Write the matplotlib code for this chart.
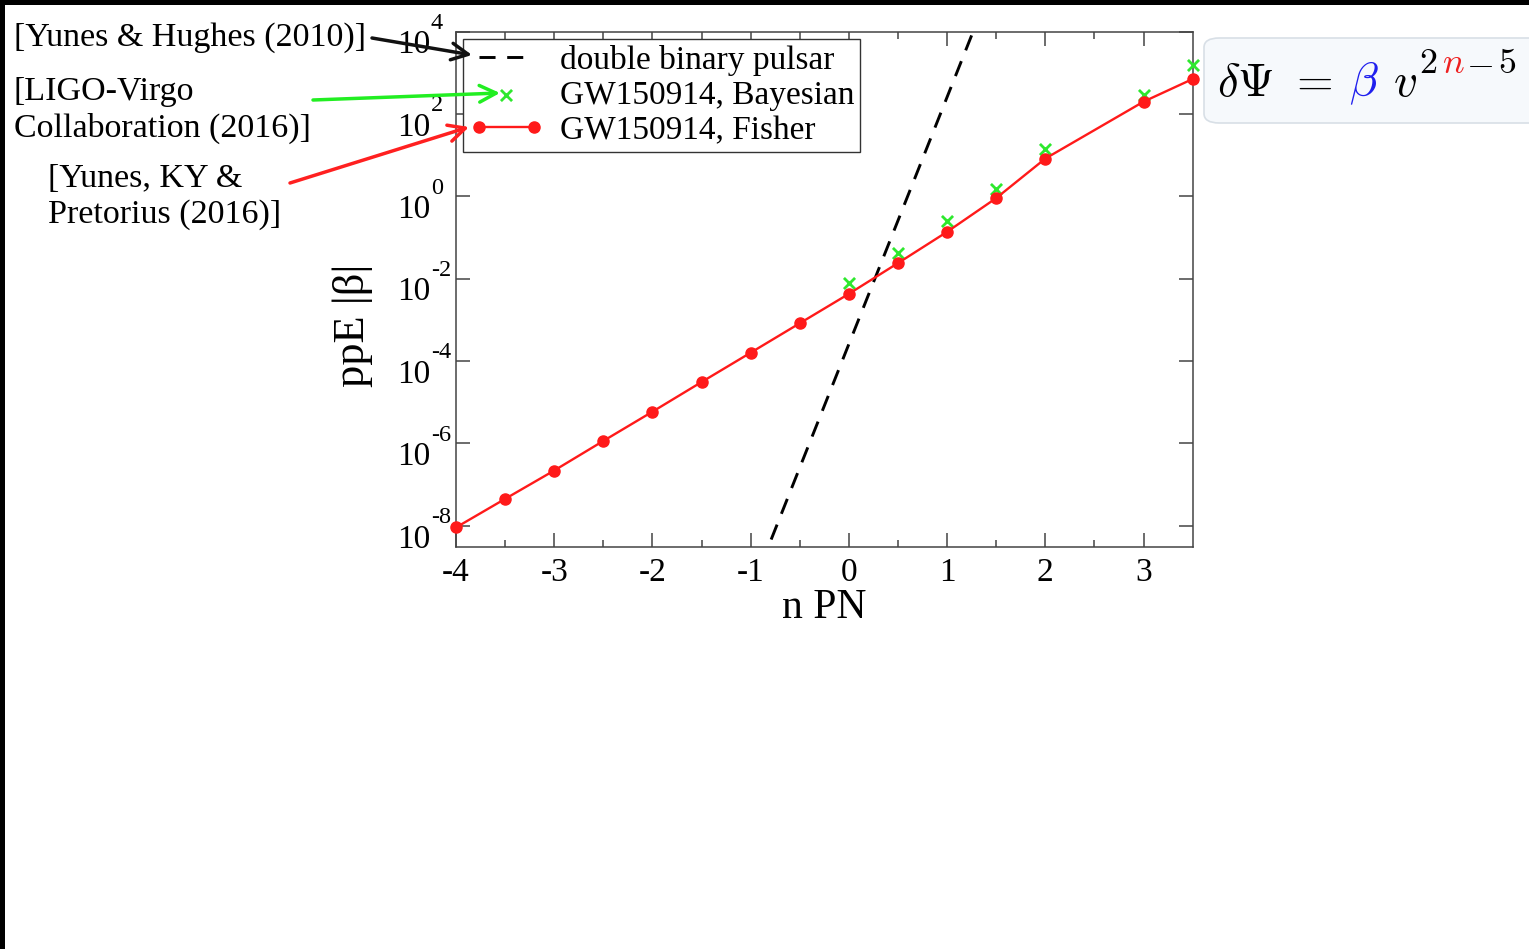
import matplotlib
matplotlib.use("Agg")
import matplotlib.pyplot as plt
from matplotlib.patches import FancyBboxPatch, Rectangle
from matplotlib.ticker import NullLocator
from matplotlib.transforms import ScaledTranslation

# data
n_fisher = [-4, -3.5, -3, -2.5, -2, -1.5, -1, -0.5, 0, 0.5, 1, 1.5, 2, 3, 3.5]
beta_fisher = [9.1e-9, 4.5e-8, 2.2e-7, 1.15e-6, 5.9e-6, 3.1e-5, 1.6e-4, 8.3e-4,
               4.3e-3, 2.4e-2, 0.138, 0.91, 8.3, 200, 710]
n_bayes = [0, 0.5, 1, 1.5, 2, 3, 3.5]
beta_bayes = [7.8e-3, 4.3e-2, 0.25, 1.55, 14, 290, 1550]
n_dbp = [-1, -0.5, 0, 0.5, 1, 1.5]
beta_dbp = [2.6e-10, 2.6e-7, 2.6e-4, 0.26, 2.6e2, 2.6e5]

xticks = [-4, -3, -2, -1, 0, 1, 2, 3]
xticklabels = ["-4", "-3", "-2", "-1", "0", "1", "2", "3"]
yticks = [1e-8, 1e-6, 1e-4, 1e-2, 1e0, 1e2, 1e4]
yexponents = ["-8", "-6", "-4", "-2", "0", "2", "4"]

plt.rcParams['font.family'] = 'Liberation Serif'

W, H = 1529, 949
fig = plt.figure(figsize=(W / 100, H / 100), dpi=100)
fig.patch.set_facecolor("white")

def fx(px):
    return px / W

def fy(py):
    return 1 - py / H

ax = fig.add_axes([fx(456), fy(547.3), fx(1192.7) - fx(456), fy(31.7) - fy(547.3)])

green = "#2ee82e"
red = "#ff1a1a"

ax.plot(n_dbp, beta_dbp, color="black", lw=2.1, dashes=(5.5, 4), label="double binary pulsar")
ax.scatter(n_bayes, beta_bayes, marker="x", s=64, linewidths=2, color=green,
           label="GW150914, Bayesian", clip_on=False, zorder=3)
ax.plot(n_fisher, beta_fisher, "-o", color=red, lw=1.7, ms=8, label="GW150914, Fisher",
        clip_on=False, zorder=4)

ax.set_yscale("log")
ax.set_xlim(-4, 3.5)
ax.set_ylim(3e-9, 1e4)
ax.set_xticks(xticks, labels=xticklabels)
ax.set_xticks([-3.5, -2.5, -1.5, -0.5, 0.5, 1.5, 2.5], minor=True)
ax.set_yticks(yticks, labels=["10"] * len(yticks))
ax.yaxis.set_minor_locator(NullLocator())
ax.tick_params(which="both", direction="in", top=True, right=True, width=1.1, color="#444444")
ax.tick_params(which="major", length=10)
ax.tick_params(which="minor", length=5)
ax.tick_params(axis="x", labelsize=24, pad=7)
ax.tick_params(axis="y", labelsize=24, pad=18.5)
for sp in ax.spines.values():
    sp.set_color("#444444")
    sp.set_linewidth(1.1)

# y labels: "10" sits a little below the tick, exponent raised just after it
shift = ScaledTranslation(0, -0.10, fig.dpi_scale_trans)
for lab in ax.get_yticklabels():
    lab.set_transform(lab.get_transform() + shift)
for yv, e in zip(yticks, yexponents):
    ax.annotate(e, xy=(0, yv), xycoords=ax.get_yaxis_transform(), xytext=(-18.2, 6),
                textcoords="offset points", ha="left", va="center", fontsize=17.5,
                annotation_clip=False)

ax.set_xlabel("n PN", fontsize=30)
ax.set_ylabel("ppE |β|", fontsize=32)
ax.xaxis.set_label_coords(0.5, -0.079)
ax.yaxis.set_label_coords(-0.113, 0.43)

leg = ax.legend(loc="upper left", bbox_to_anchor=(0.0095, 0.986), borderaxespad=0,
                fontsize=24, fancybox=False, framealpha=1, edgecolor="#333333",
                handlelength=2.25, handletextpad=0.5, borderpad=0.17, labelspacing=0.14,
                numpoints=2, scatterpoints=1)
leg.get_frame().set_linewidth(1.0)

# references with arrows on the left
tfs = 24.5
fig.text(fx(14), fy(46), "[Yunes & Hughes (2010)]", fontsize=tfs, va="baseline")
fig.text(fx(14), fy(137), "[LIGO-Virgo\nCollaboration (2016)]", fontsize=tfs, va="baseline",
         linespacing=1.25)
fig.text(fx(48), fy(223), "[Yunes, KY &\nPretorius (2016)]", fontsize=tfs, va="baseline",
         linespacing=1.25)

arrows = [((372, 38), (472, 55), "#111111"),
          ((313, 100), (500, 93), "#22ee22"),
          ((290, 183), (469, 127), "#ff2020")]
for (x0, y0), (x1, y1), c in arrows:
    ax.annotate("", xy=(x1, H - y1), xytext=(x0, H - y0), xycoords="figure pixels",
                textcoords="figure pixels", zorder=10,
                arrowprops=dict(arrowstyle="->,head_length=0.6,head_width=0.3", color=c,
                                lw=2.5, shrinkA=0, shrinkB=0, mutation_scale=20))

# formula box at top right
box = FancyBboxPatch((fx(1204), fy(123)), fx(1545) - fx(1204), fy(38) - fy(123),
                     boxstyle="round,pad=0,rounding_size=0.01", transform=fig.transFigure,
                     facecolor="#f6f9fc", edgecolor="#d8dfe6", lw=1.2, zorder=-1)
fig.add_artist(box)

base = fy(96)
sup = fy(73)
mfs, sfs = 34, 26
t = fig.text(fx(1217), base, r"$\delta\Psi\ =$", fontsize=mfs, math_fontfamily="cm",
             va="baseline")
pieces = [(r"$\beta$", "#2020ee", mfs, base, 11.5),
          (r"$v$", "black", mfs, base, 10.5),
          (r"$2$", "black", sfs, sup, 1.5),
          (r"$n$", "#ee2020", sfs, sup, 3),
          (r"$-$", "black", sfs, sup, 1.5),
          (r"$5$", "black", sfs, sup, 3)]
for s, c, fs, yb, dx in pieces:
    t = ax.annotate(s, xy=(1, yb), xycoords=(t, "figure fraction"), xytext=(dx, 0),
                    textcoords="offset points", fontsize=fs, color=c, math_fontfamily="cm",
                    va="baseline", ha="left", annotation_clip=False)

# black frame strips from the screenshot
fig.add_artist(Rectangle((0, fy(5)), 1, fy(0) - fy(5), transform=fig.transFigure,
                         facecolor="black", edgecolor="none"))
fig.add_artist(Rectangle((0, 0), fx(5), 1, transform=fig.transFigure,
                         facecolor="black", edgecolor="none"))

fig.savefig("out.png", dpi=100)
